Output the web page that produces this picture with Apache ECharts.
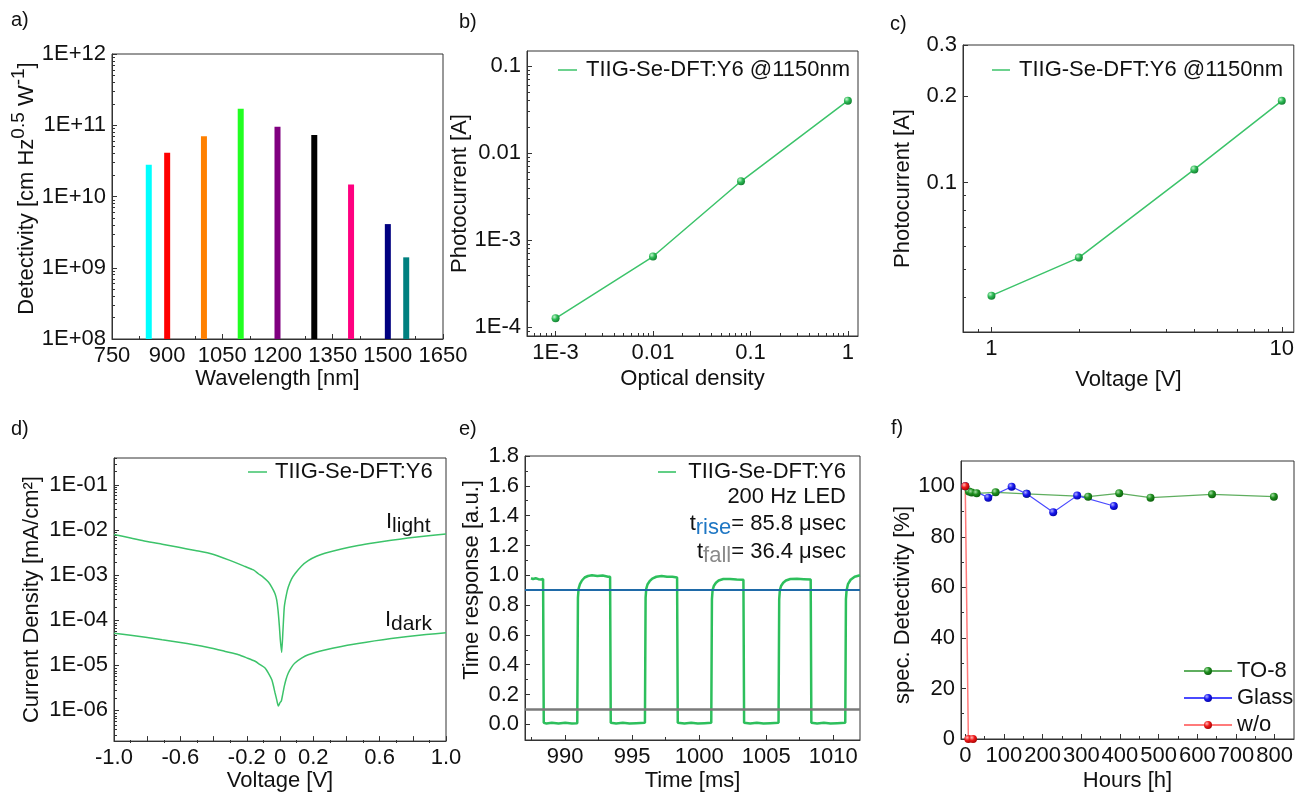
<!DOCTYPE html>
<html><head><meta charset="utf-8">
<script src="https://cdn.jsdelivr.net/npm/echarts@6/dist/echarts.min.js"></script>
<style>html,body{margin:0;padding:0;background:#fff}#c{width:1297px;height:793px}</style>
</head><body><div id="c"></div>
<script>
// ================= DATA =================
// a) detectivity bars
const aWavelength = [850, 900, 1000, 1100, 1200, 1300, 1400, 1500, 1550];
const aDetectivity = [2.8e10, 4.1e10, 7.0e10, 1.7e11, 9.5e10, 7.3e10, 1.47e10, 4.1e9, 1.4e9];
const aXTicks = [750, 900, 1050, 1200, 1350, 1500, 1650];
const aXLabels = ['750', '900', '1050', '1200', '1350', '1500', '1650'];
const aXMinor = [825, 975, 1125, 1275, 1425, 1575];
const aYTicks = [1e8, 1e9, 1e10, 1e11, 1e12];
const aYLabels = ['1E+08', '1E+09', '1E+10', '1E+11', '1E+12'];

// b) photocurrent vs optical density
const bOD = [0.001, 0.01, 0.08, 1];
const bCurrent = [1.27e-4, 6.5e-4, 4.75e-3, 0.040];
const bXTicks = [0.001, 0.01, 0.1, 1];
const bXLabels = ['1E-3', '0.01', '0.1', '1'];
const bYTicks = [1e-4, 1e-3, 0.01, 0.1];
const bYLabels = ['1E-4', '1E-3', '0.01', '0.1'];

// c) photocurrent vs voltage
const cVoltage = [1, 2, 5, 10];
const cCurrent = [0.0405, 0.0549, 0.111, 0.192];
const cXTicks = [1, 10];
const cXLabels = ['1', '10'];
const cYTicks = [0.1, 0.2, 0.3];
const cYLabels = ['0.1', '0.2', '0.3'];

// d) J-V curves
const dLightV = [-1.0, -0.9, -0.81, -0.71, -0.61, -0.51, -0.41, -0.31, -0.21, -0.16, -0.13, -0.1, -0.07, -0.05, -0.03, -0.02, -0.012, -0.004, 0.002, 0.010, 0.018, 0.026, 0.038, 0.05, 0.07, 0.09, 0.13, 0.17, 0.22, 0.27, 0.37, 0.47, 0.57, 0.67, 0.77, 0.88, 1.0];
const dLightJ = [8.0e-3, 6.7e-3, 5.64e-3, 4.85e-3, 4.15e-3, 3.52e-3, 2.95e-3, 2.18e-3, 1.55e-3, 1.3e-3, 1.07e-3, 8.9e-4, 7.0e-4, 5.4e-4, 3.86e-4, 2.8e-4, 1.66e-4, 7.5e-5, 3.6e-5, 1.9e-5, 6.0e-5, 1.97e-4, 3.6e-4, 5.43e-4, 8.2e-4, 1.07e-3, 1.6e-3, 2.1e-3, 2.62e-3, 3.05e-3, 3.81e-3, 4.55e-3, 5.25e-3, 5.95e-3, 6.65e-3, 7.4e-3, 8.2e-3];
const dDarkV = [-1.0, -0.9, -0.81, -0.71, -0.61, -0.51, -0.41, -0.33, -0.25, -0.2, -0.15, -0.12, -0.09, -0.07, -0.05, -0.04, -0.03, -0.02, -0.01, 0.0, 0.008, 0.016, 0.026, 0.037, 0.05, 0.07, 0.09, 0.13, 0.17, 0.27, 0.37, 0.47, 0.57, 0.67, 0.77, 0.88, 1.0];
const dDarkJ = [5.08e-5, 4.6e-5, 4.15e-5, 3.65e-5, 3.22e-5, 2.78e-5, 2.37e-5, 2.0e-5, 1.69e-5, 1.44e-5, 1.21e-5, 1.02e-5, 8.6e-6, 6.6e-6, 4.74e-6, 3.5e-6, 2.41e-6, 1.7e-6, 1.22e-6, 1.45e-6, 1.58e-6, 2.2e-6, 3.39e-6, 4.9e-6, 6.65e-6, 9.0e-6, 1.11e-5, 1.42e-5, 1.69e-5, 2.15e-5, 2.59e-5, 3.0e-5, 3.44e-5, 3.87e-5, 4.31e-5, 4.75e-5, 5.2e-5];
const dXTicks = [-1.0, -0.8, -0.6, -0.4, -0.2, 0, 0.2, 0.4, 0.6, 0.8, 1.0];
const dXLabelVals = [-1.0, -0.6, -0.2, 0, 0.2, 0.6, 1.0];
const dXLabels = ['-1.0', '-0.6', '-0.2', '0', '0.2', '0.6', '1.0'];
const dXMinor = [-0.9, -0.7, -0.5, -0.3, -0.1, 0.1, 0.3, 0.5, 0.7, 0.9];
const dYTicks = [1e-6, 1e-5, 1e-4, 1e-3, 1e-2, 1e-1];
const dYLabels = ['1E-06', '1E-05', '1E-04', '1E-03', '1E-02', '1E-01'];

// e) time response (time in ms, normalised response)
const eTime = [987.45, 987.6, 987.8, 988.0, 988.2, 988.35,
  988.40, 988.6, 989.0, 989.5, 990.0, 990.5, 990.9,
  990.95, 991.0, 991.1, 991.25, 991.45, 991.7, 992.0, 992.4, 992.8, 993.2, 993.35,
  993.40, 993.8, 994.3, 994.8, 995.3, 995.95,
  996.0, 996.05, 996.15, 996.3, 996.5, 996.8, 997.2, 997.6, 998.0, 998.35,
  998.40, 998.9, 999.4, 999.9, 1000.4, 1000.9,
  1000.95, 1001.0, 1001.1, 1001.25, 1001.45, 1001.8, 1002.3, 1002.8, 1003.3,
  1003.35, 1003.8, 1004.3, 1004.8, 1005.3, 1005.92,
  1005.97, 1006.02, 1006.12, 1006.27, 1006.47, 1006.8, 1007.3, 1007.8, 1008.32,
  1008.37, 1008.8, 1009.3, 1009.8, 1010.3, 1010.9,
  1010.95, 1011.0, 1011.1, 1011.3, 1011.6, 1012.0];
const eResp = [0.98, 0.975, 0.98, 0.974, 0.972, 0.975,
  0.01, 0.006, 0.01, 0.005, 0.01, 0.006, 0.008,
  0.85, 0.91, 0.94, 0.965, 0.985, 0.995, 1.0, 0.995, 0.998, 0.99, 0.99,
  0.01, 0.006, 0.01, 0.005, 0.008, 0.01,
  0.85, 0.91, 0.94, 0.96, 0.978, 0.99, 0.995, 0.99, 0.99, 0.985,
  0.01, 0.006, 0.01, 0.005, 0.008, 0.01,
  0.84, 0.9, 0.93, 0.95, 0.965, 0.975, 0.975, 0.972, 0.97,
  0.01, 0.006, 0.01, 0.005, 0.008, 0.01,
  0.84, 0.9, 0.93, 0.95, 0.965, 0.975, 0.976, 0.974, 0.972,
  0.01, 0.006, 0.01, 0.005, 0.008, 0.01,
  0.84, 0.9, 0.94, 0.97, 0.99, 1.0];
const eRiseLevel = 0.9;
const eFallLevel = 0.1;
const eXTicks = [990, 995, 1000, 1005, 1010];
const eXLabels = ['990', '995', '1000', '1005', '1010'];
const eXMinor = [987.5, 992.5, 997.5, 1002.5, 1007.5];
const eYTicks = [0, 0.2, 0.4, 0.6, 0.8, 1.0, 1.2, 1.4, 1.6, 1.8];
const eYLabels = ['0.0', '0.2', '0.4', '0.6', '0.8', '1.0', '1.2', '1.4', '1.6', '1.8'];
const eYMinor = [0.1, 0.3, 0.5, 0.7, 0.9, 1.1, 1.3, 1.5, 1.7];

// f) stability
const fTO8Hours = [0, 9.6, 16.5, 29.5, 78.6, 158.7, 317.8, 398, 479, 638, 798];
const fTO8Det = [100, 97.9, 97.5, 97.2, 97.6, 97.0, 95.9, 97.2, 95.5, 96.8, 95.9];
const fGlassHours = [0, 59.4, 119.9, 158.7, 227.4, 289.4, 384.2];
const fGlassDet = [100, 95.5, 99.8, 97.0, 89.7, 96.3, 92.2];
const fWoHours = [0, 8, 20];
const fWoDet = [100, 0, 0];
const fXTicks = [0, 100, 200, 300, 400, 500, 600, 700, 800];
const fXLabels = ['0', '100', '200', '300', '400', '500', '600', '700', '800'];
const fXMinor = [50, 150, 250, 350, 450, 550, 650, 750];
const fYTicks = [0, 20, 40, 60, 80, 100];
const fYLabels = ['0', '20', '40', '60', '80', '100'];
const fYMinor = [10, 30, 50, 70, 90];

// ================= STYLE / LAYOUT =================
const FONT = '"Liberation Sans", Arial, Helvetica, sans-serif';
const FS = 22;
const AXC = '#333';
const TXT = '#111';
const aColors = ['#00ffff', '#ff0000', '#ff8000', '#22ff22', '#800080', '#000000', '#ff0080', '#000080', '#008080'];
const rects = [
  {left: 112, top: 54, width: 331, height: 285},
  {left: 527, top: 51, width: 331, height: 285},
  {left: 963, top: 45, width: 331, height: 287},
  {left: 114, top: 458, width: 332, height: 285},
  {left: 525, top: 456, width: 335, height: 284},
  {left: 961, top: 461, width: 333, height: 278}
];

function logMinors(lo, hi) {
  const out = [];
  for (let e = Math.floor(Math.log10(lo)); e <= Math.ceil(Math.log10(hi)); e++) {
    for (let m = 2; m <= 9; m++) {
      const v = parseFloat((m * Math.pow(10, e)).toPrecision(6));
      if (v > lo * 1.002 && v < hi * 0.998) out.push(v);
    }
  }
  return out;
}
function lookup(vals, labels) {
  return function (v) {
    for (let i = 0; i < vals.length; i++) {
      if (Math.abs(v - vals[i]) <= 1e-9 * Math.abs(vals[i]) + 1e-12) return labels[i];
    }
    return '';
  };
}
function mainAxis(gi, type, min, max, ticks, labelVals, labels, name, nameGap, extra) {
  const ax = {
    gridIndex: gi, type: type, min: min, max: max,
    axisLine: {show: true, onZero: false, lineStyle: {color: AXC, width: 1}},
    axisTick: {show: true, inside: true, length: 5, lineStyle: {color: AXC, width: 1}, customValues: ticks},
    axisLabel: {show: true, margin: 6, fontSize: FS, color: TXT, fontFamily: FONT,
      customValues: labelVals, formatter: lookup(labelVals, labels), hideOverlap: false},
    splitLine: {show: false}, minorTick: {show: false}, minorSplitLine: {show: false},
    name: name, nameLocation: 'middle', nameGap: nameGap,
    nameTextStyle: {fontSize: FS, color: TXT, fontFamily: FONT}
  };
  if (type === 'log') ax.logBase = 10;
  if (extra) {
    for (const k in extra) {
      if (typeof extra[k] === 'object' && ax[k] && !Array.isArray(extra[k])) Object.assign(ax[k], extra[k]);
      else ax[k] = extra[k];
    }
  }
  return ax;
}
function minorAxis(gi, type, min, max, ticks) {
  const ax = {
    gridIndex: gi, type: type, min: min, max: max,
    axisLine: {show: false, onZero: false}, axisLabel: {show: false}, splitLine: {show: false},
    axisTick: {show: ticks.length > 0, inside: true, length: 3, lineStyle: {color: AXC, width: 1}, customValues: ticks}
  };
  if (type === 'log') ax.logBase = 10;
  return ax;
}
function ball(c0, c1, c2) {
  return {type: 'radial', x: 0.35, y: 0.32, r: 0.75,
    colorStops: [{offset: 0, color: c0}, {offset: 0.45, color: c1}, {offset: 1, color: c2}]};
}
const zip = (xs, ys) => xs.map((x, i) => [x, ys[i]]);

// axis ranges
const aR = {x: [750, 1650], y: [1e8, 1e12]};
const bR = {x: [5.09e-4, 1.27], y: [7.96e-5, 0.1486]};
const cR = {x: [0.798, 11.0], y: [0.0303, 0.3]};
const dR = {x: [-1, 1], y: [2.03e-7, 0.402]};
const eR = {x: [987, 1012], y: [-0.105, 1.8]};
const fR = {x: [-11, 850], y: [0, 110]};

const grids = rects.map(r => Object.assign({show: true, borderColor: AXC, borderWidth: 1, containLabel: false}, r))
  .concat(rects.map(r => Object.assign({show: false, containLabel: false}, r)));

const xAxes = [
  mainAxis(0, 'value', aR.x[0], aR.x[1], aXTicks, aXTicks, aXLabels, 'Wavelength [nm]', 29),
  mainAxis(1, 'log', bR.x[0], bR.x[1], bXTicks, bXTicks, bXLabels, 'Optical density', 32),
  mainAxis(2, 'log', cR.x[0], cR.x[1], cXTicks, cXTicks, cXLabels, 'Voltage [V]', 37),
  mainAxis(3, 'value', dR.x[0], dR.x[1], dXTicks, dXLabelVals, dXLabels, 'Voltage [V]', 27),
  mainAxis(4, 'value', eR.x[0], eR.x[1], eXTicks, eXTicks, eXLabels, 'Time [ms]', 30),
  mainAxis(5, 'value', fR.x[0], fR.x[1], fXTicks, fXTicks, fXLabels, 'Hours [h]', 31),
  minorAxis(6, 'value', aR.x[0], aR.x[1], aXMinor),
  minorAxis(7, 'log', bR.x[0], bR.x[1], logMinors(bR.x[0], bR.x[1])),
  minorAxis(8, 'log', cR.x[0], cR.x[1], logMinors(cR.x[0], cR.x[1])),
  minorAxis(9, 'value', dR.x[0], dR.x[1], dXMinor),
  minorAxis(10, 'value', eR.x[0], eR.x[1], eXMinor),
  minorAxis(11, 'value', fR.x[0], fR.x[1], fXMinor)
];
const yAxes = [
  mainAxis(0, 'log', aR.y[0], aR.y[1], aYTicks, aYTicks, aYLabels,
    '{m|Detectivity [cm Hz}{s|0.5}{m| W}{s|-1}{m|]}', 60,
    {nameTextStyle: {padding: [0, 0, 0, 16], rich: {
      m: {fontSize: FS, fontFamily: FONT, color: TXT, lineHeight: 36},
      s: {fontSize: 19, fontFamily: FONT, color: TXT, lineHeight: 20, verticalAlign: 'top'}}}}),
  mainAxis(1, 'log', bR.y[0], bR.y[1], bYTicks, bYTicks, bYLabels, 'Photocurrent [A]', 47),
  mainAxis(2, 'log', cR.y[0], cR.y[1], cYTicks, cYTicks, cYLabels, 'Photocurrent [A]', 49),
  mainAxis(3, 'log', dR.y[0], dR.y[1], dYTicks, dYTicks, dYLabels, 'Current Density [mA/cm²]', 71),
  mainAxis(4, 'value', eR.y[0], eR.y[1], eYTicks, eYTicks, eYLabels, 'Time response [a.u.]', 42,
    {nameTextStyle: {padding: [0, 0, 0, 36]}}),
  mainAxis(5, 'value', fR.y[0], fR.y[1], fYTicks, fYTicks, fYLabels, 'spec. Detectivity [%]', 38,
    {nameTextStyle: {padding: [0, 10, 0, 0]}}),
  minorAxis(6, 'log', aR.y[0], aR.y[1], logMinors(aR.y[0], aR.y[1])),
  minorAxis(7, 'log', bR.y[0], bR.y[1], logMinors(bR.y[0], bR.y[1])),
  minorAxis(8, 'log', cR.y[0], cR.y[1], logMinors(cR.y[0], cR.y[1])),
  minorAxis(9, 'log', dR.y[0], dR.y[1], logMinors(dR.y[0], dR.y[1])),
  minorAxis(10, 'value', eR.y[0], eR.y[1], eYMinor),
  minorAxis(11, 'value', fR.y[0], fR.y[1], fYMinor)
];

const greenLine = '#3cc36a';
const bcBall = ball('#c8f5d4', '#2dbb55', '#127a2e');

const series = [
  {type: 'bar', name: 'a', xAxisIndex: 0, yAxisIndex: 0, barWidth: 6, clip: true,
    data: aWavelength.map((w, i) => ({value: [w, aDetectivity[i]], itemStyle: {color: aColors[i]}}))},
  {type: 'line', name: 'TIIG-Se-DFT:Y6 @1150nm', xAxisIndex: 1, yAxisIndex: 1, data: zip(bOD, bCurrent),
    symbol: 'circle', symbolSize: 8, lineStyle: {color: greenLine, width: 1.5}, itemStyle: {color: bcBall}},
  {type: 'line', name: 'TIIG-Se-DFT:Y6 @1150nm', xAxisIndex: 2, yAxisIndex: 2, data: zip(cVoltage, cCurrent),
    symbol: 'circle', symbolSize: 8, lineStyle: {color: greenLine, width: 1.5}, itemStyle: {color: bcBall}},
  {type: 'line', name: 'light', xAxisIndex: 3, yAxisIndex: 3, data: zip(dLightV, dLightJ),
    symbol: 'none', smooth: 0.2, lineStyle: {color: greenLine, width: 1.5}},
  {type: 'line', name: 'dark', xAxisIndex: 3, yAxisIndex: 3, data: zip(dDarkV, dDarkJ),
    symbol: 'none', smooth: 0.2, lineStyle: {color: greenLine, width: 1.5}},
  {type: 'line', name: 'resp', xAxisIndex: 4, yAxisIndex: 4, data: zip(eTime, eResp),
    symbol: 'none', lineStyle: {color: '#2dbf5c', width: 2.5},
    markLine: {silent: true, symbol: 'none', label: {show: false}, animation: false,
      data: [{yAxis: eRiseLevel, lineStyle: {color: '#1f6aa8', width: 2, type: 'solid'}},
             {yAxis: eFallLevel, lineStyle: {color: '#7a7a7a', width: 2.5, type: 'solid'}}]}},
  {type: 'line', name: 'TO-8', xAxisIndex: 5, yAxisIndex: 5, data: zip(fTO8Hours, fTO8Det),
    symbol: 'circle', symbolSize: 8, lineStyle: {color: '#5fae5f', width: 1.2},
    itemStyle: {color: ball('#a8e0a8', '#1f8f1f', '#0a5a0a')}},
  {type: 'line', name: 'Glass', xAxisIndex: 5, yAxisIndex: 5, data: zip(fGlassHours, fGlassDet),
    symbol: 'circle', symbolSize: 8, lineStyle: {color: '#4a4aff', width: 1.2},
    itemStyle: {color: ball('#b0b0ff', '#1a1af0', '#0000a0')}},
  {type: 'line', name: 'w/o', xAxisIndex: 5, yAxisIndex: 5, data: zip(fWoHours, fWoDet),
    symbol: 'circle', symbolSize: 8, lineStyle: {color: '#ff7a7a', width: 1.5},
    itemStyle: {color: ball('#ffb8b8', '#f01a1a', '#a00000')}}
];

function label(txt, x, y) {
  return {type: 'text', style: {text: txt, x: x, y: y, font: '20px ' + FONT, fill: TXT, align: 'left', verticalAlign: 'top'}};
}
function legLine(x1, x2, y, color) {
  return {type: 'line', shape: {x1: x1, y1: y, x2: x2, y2: y}, style: {stroke: color, lineWidth: 1.5}};
}
function txt(t, x, y, align, rich) {
  return {type: 'text', style: {text: t, x: x, y: y, font: FS + 'px ' + FONT, fill: TXT, align: align, verticalAlign: 'middle', rich: rich}};
}
const subRich = {
  m: {fontSize: FS, fontFamily: FONT, fill: TXT, lineHeight: 30},
  s: {fontSize: 21, fontFamily: FONT, fill: TXT, lineHeight: 20, verticalAlign: 'bottom'},
  sb: {fontSize: FS, fontFamily: FONT, fill: '#1f77c4', lineHeight: 20, verticalAlign: 'bottom'},
  sg: {fontSize: FS, fontFamily: FONT, fill: '#8a8a8a', lineHeight: 20, verticalAlign: 'bottom'}
};

const graphic = [
  label('a)', 11, 10), label('b)', 459, 12), label('c)', 890, 14),
  label('d)', 11, 419), label('e)', 459, 419), label('f)', 891, 418),
  legLine(558, 577, 70, greenLine), txt('TIIG-Se-DFT:Y6 @1150nm', 586, 70, 'left'),
  legLine(992, 1010, 70, greenLine), txt('TIIG-Se-DFT:Y6 @1150nm', 1019, 70, 'left'),
  legLine(248, 267, 472, greenLine), txt('TIIG-Se-DFT:Y6', 275, 472, 'left'),
  txt('{m|I}{s|light}', 386, 522, 'left', subRich),
  txt('{m|I}{s|dark}', 385, 620, 'left', subRich),
  legLine(658, 676, 472, '#2dbf5c'), txt('TIIG-Se-DFT:Y6', 846, 472, 'right'),
  txt('200 Hz LED', 846, 497, 'right'),
  txt('{m|t}{sb|rise}{m|= 85.8 μsec}', 846, 524, 'right', subRich),
  txt('{m|t}{sg|fall}{m|= 36.4 μsec}', 846, 552, 'right', subRich)
];

const chart = echarts.init(document.getElementById('c'), null, {renderer: 'canvas'});
chart.setOption({
  animation: false,
  backgroundColor: '#ffffff',
  textStyle: {fontFamily: FONT},
  grid: grids,
  xAxis: xAxes,
  yAxis: yAxes,
  legend: [{
    data: ['TO-8', 'Glass', 'w/o'], orient: 'vertical', left: 1183, top: 660,
    itemWidth: 48, itemHeight: 10, itemGap: 5, padding: 0,
    textStyle: {fontSize: FS, color: TXT, fontFamily: FONT}
  }],
  series: series,
  graphic: graphic
});
</script></body></html>
